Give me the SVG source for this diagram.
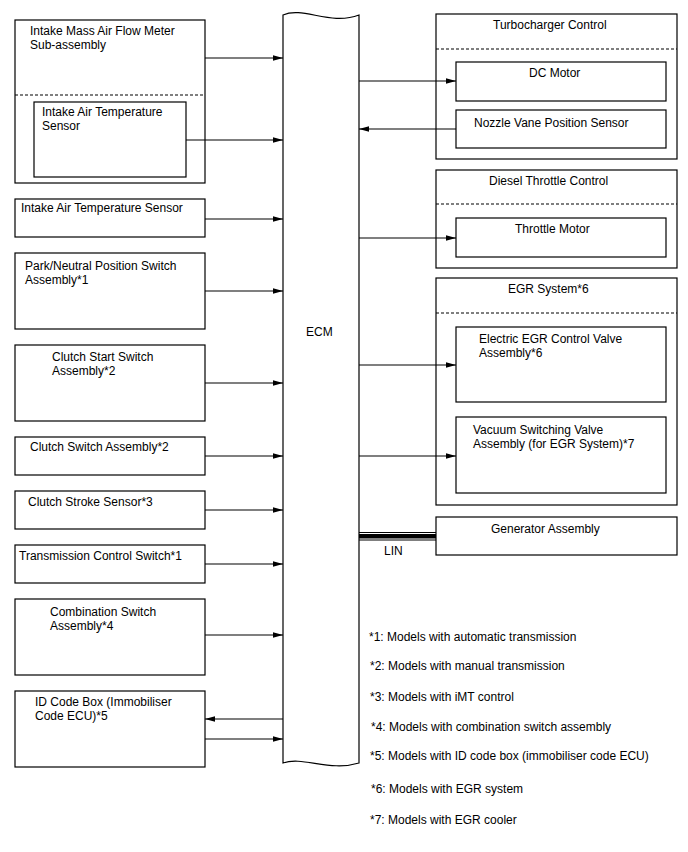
<svg xmlns="http://www.w3.org/2000/svg" width="688" height="852" viewBox="0 0 688 852">
<style>
.box{fill:#fff;stroke:#000;stroke-width:1.2}
.dash{stroke:#000;stroke-width:1.2;stroke-dasharray:3,2;fill:none}
.ln{stroke:#000;stroke-width:1.2;fill:none;marker-end:url(#ah)}
text{font-family:"Liberation Sans",Arial,sans-serif;font-size:12px;fill:#000}
</style>
<defs>
<marker id="ah" markerUnits="userSpaceOnUse" markerWidth="11" markerHeight="6" refX="10" refY="2.75" orient="auto">
<path d="M0,0 L10,2.75 L0,5.5 z" fill="#000"/>
</marker>
</defs>
<rect width="688" height="852" fill="#fff"/>

<g id="ecm">
<path class="box" d="M283,15 C303,6 330,26 359,15 L359,763 C330,772 303,756 283,763 Z"/>
<text x="306" y="336">ECM</text>
</g>

<g id="maf">
<rect class="box" x="15" y="20" width="190" height="163"/>
<line class="dash" x1="15" y1="95" x2="205" y2="95"/>
<text x="30" y="35">Intake Mass Air Flow Meter</text>
<text x="30" y="49">Sub-assembly</text>
<rect class="box" x="34" y="102" width="152" height="75"/>
<text x="42" y="116">Intake Air Temperature</text>
<text x="42" y="130">Sensor</text>
</g>

<g id="iat">
<rect class="box" x="15" y="199" width="190" height="38"/>
<text x="21" y="212">Intake Air Temperature Sensor</text>
</g>

<g id="pnp">
<rect class="box" x="15" y="253" width="190" height="76"/>
<text x="25" y="270">Park/Neutral Position Switch</text>
<text x="25" y="284">Assembly*1</text>
</g>

<g id="clutchstart">
<rect class="box" x="15" y="345" width="190" height="76"/>
<text x="52" y="361">Clutch Start Switch</text>
<text x="52" y="375">Assembly*2</text>
</g>

<g id="clutchsw">
<rect class="box" x="15" y="437" width="190" height="38"/>
<text x="30" y="451">Clutch Switch Assembly*2</text>
</g>

<g id="clutchstroke">
<rect class="box" x="15" y="491" width="190" height="38"/>
<text x="28" y="506">Clutch Stroke Sensor*3</text>
</g>

<g id="tcs">
<rect class="box" x="15" y="545" width="190" height="38"/>
<text x="19" y="560">Transmission Control Switch*1</text>
</g>

<g id="combo">
<rect class="box" x="15" y="599" width="190" height="76"/>
<text x="50" y="616">Combination Switch</text>
<text x="50" y="630">Assembly*4</text>
</g>

<g id="idcode">
<rect class="box" x="15" y="691" width="190" height="76"/>
<text x="35" y="706">ID Code Box (Immobiliser</text>
<text x="35" y="720">Code ECU)*5</text>
</g>

<g id="turbo">
<rect class="box" x="436" y="14" width="241" height="145"/>
<line class="dash" x1="436" y1="49" x2="677" y2="49"/>
<text x="493" y="29">Turbocharger Control</text>
<rect class="box" x="456" y="62" width="210" height="39"/>
<text x="529" y="77">DC Motor</text>
<rect class="box" x="456" y="110" width="210" height="38"/>
<text x="474" y="127">Nozzle Vane Position Sensor</text>
</g>

<g id="throttle">
<rect class="box" x="436" y="170" width="241" height="98"/>
<line class="dash" x1="436" y1="204" x2="677" y2="204"/>
<text x="489" y="185">Diesel Throttle Control</text>
<rect class="box" x="456" y="218" width="210" height="39"/>
<text x="515" y="233">Throttle Motor</text>
</g>

<g id="egr">
<rect class="box" x="436" y="278" width="241" height="227"/>
<line class="dash" x1="436" y1="313" x2="677" y2="313"/>
<text x="508" y="293">EGR System*6</text>
<rect class="box" x="456" y="327" width="210" height="75"/>
<text x="479" y="343">Electric EGR Control Valve</text>
<text x="479" y="357">Assembly*6</text>
<rect class="box" x="456" y="417" width="210" height="76"/>
<text x="473" y="434">Vacuum Switching Valve</text>
<text x="473" y="448">Assembly (for EGR System)*7</text>
</g>

<g id="generator">
<rect class="box" x="436" y="517" width="241" height="38"/>
<text x="491" y="533">Generator Assembly</text>
</g>

<g id="connectors">
<line class="ln" x1="205" y1="58" x2="283" y2="58"/>
<line class="ln" x1="186" y1="140" x2="283" y2="140"/>
<line class="ln" x1="205" y1="219" x2="283" y2="219"/>
<line class="ln" x1="205" y1="291" x2="283" y2="291"/>
<line class="ln" x1="205" y1="383" x2="283" y2="383"/>
<line class="ln" x1="205" y1="456" x2="283" y2="456"/>
<line class="ln" x1="205" y1="510" x2="283" y2="510"/>
<line class="ln" x1="205" y1="564" x2="283" y2="564"/>
<line class="ln" x1="205" y1="635" x2="283" y2="635"/>
<line class="ln" x1="283" y1="719" x2="205" y2="719"/>
<line class="ln" x1="205" y1="739" x2="283" y2="739"/>
<line class="ln" x1="359" y1="81" x2="456" y2="81"/>
<line class="ln" x1="456" y1="129" x2="359" y2="129"/>
<line class="ln" x1="359" y1="238" x2="456" y2="238"/>
<line class="ln" x1="359" y1="365" x2="456" y2="365"/>
<line class="ln" x1="359" y1="456" x2="456" y2="456"/>
<g id="lin">
<line x1="359" y1="532.5" x2="436" y2="532.5" stroke="#000" stroke-width="1"/>
<rect x="359" y="534" width="77" height="4.5" fill="#000"/>
<line x1="359" y1="540" x2="436" y2="540" stroke="#000" stroke-width="1"/>
<text x="384" y="555">LIN</text>
</g>
</g>

<g id="notes">
<text x="369" y="641">*1: Models with automatic transmission</text>
<text x="370" y="670">*2: Models with manual transmission</text>
<text x="370" y="701">*3: Models with iMT control</text>
<text x="371" y="731">*4: Models with combination switch assembly</text>
<text x="370" y="760">*5: Models with ID code box (immobiliser code ECU)</text>
<text x="371" y="793">*6: Models with EGR system</text>
<text x="370" y="824">*7: Models with EGR cooler</text>
</g>
</svg>
